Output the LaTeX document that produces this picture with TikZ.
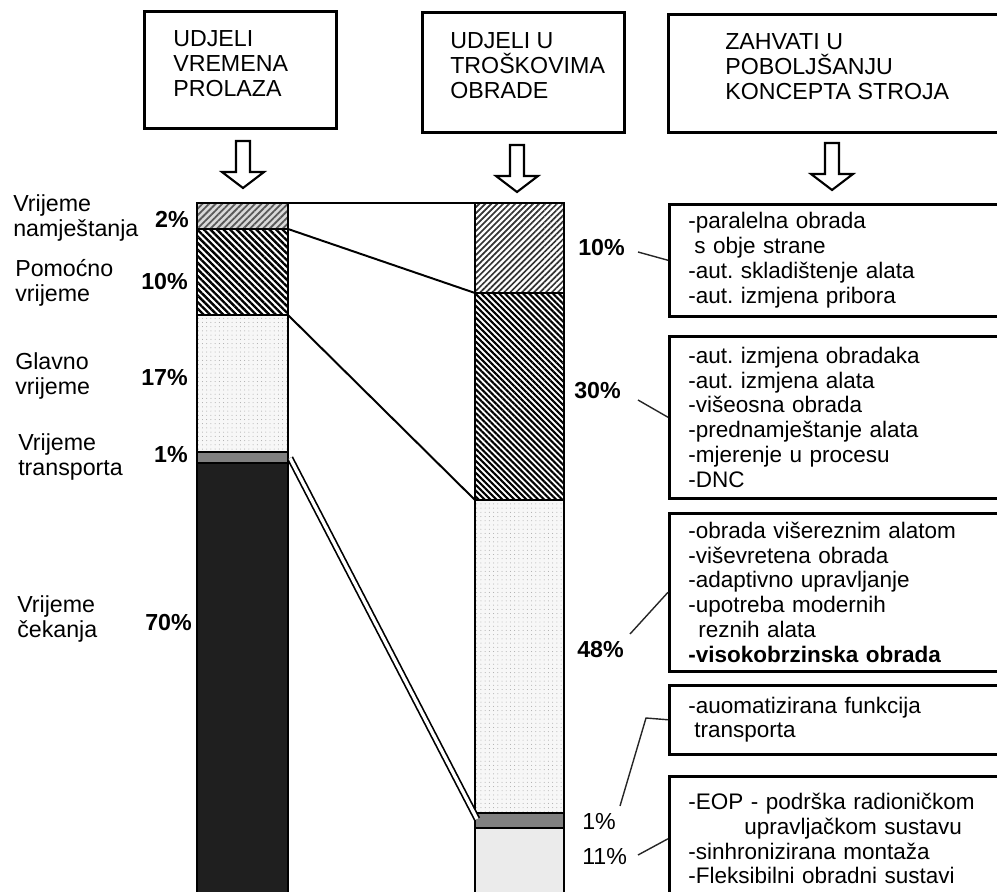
\documentclass[tikz,border=0pt]{standalone}
\usepackage{fontspec}
\setmainfont{Liberation Sans}
\usetikzlibrary{patterns.meta,calc}
\frenchspacing
\begin{document}
\begin{tikzpicture}[x=0.025cm,y=-0.025cm,
  hbox/.style={draw, line width=2pt, inner sep=0pt, anchor=north west},
  hdtext/.style={font=\fontsize{16.5}{17.8}\selectfont, align=left, inner sep=0pt, anchor=north west},
  lbl/.style={font=\fontsize{16.5}{17.8}\selectfont, align=left, inner sep=0pt, anchor=west},
  pct/.style={font=\bfseries\fontsize{16.5}{17.8}\selectfont, inner sep=0pt},
  pctr/.style={font=\fontsize{16.5}{17.8}\selectfont, inner sep=0pt, anchor=west},
  rbox/.style={draw, line width=1.8pt, anchor=north west, minimum width=345*0.025cm,
     inner xsep=19*0.025cm, inner ysep=0pt, text width=307*0.025cm, align=left,
     font=\fontsize{16}{17.6}\selectfont},
  seg/.style={draw, line width=1.4pt},
  link/.style={line width=1.4pt},
  tick/.style={line width=1pt, black!85},
  arrowline/.style={draw, line width=1.5pt, fill=white, line join=miter},
  hollowarrow/.pic={\path[arrowline] (-7,0) -- (-7,31) -- (-21,31) -- (0,47) -- (21,31) -- (7,31) -- (7,0) -- cycle;},
  hatchA/.style={preaction={fill=black!15}, pattern={Lines[angle=45,distance=3.3pt,line width=1.3pt]}, pattern color=black!65},
  hatchB/.style={pattern={Lines[angle=-45,distance=3.3pt,line width=1.7pt]}, pattern color=black},
  hatchC/.style={pattern={Lines[angle=45,distance=3pt,line width=1.2pt]}, pattern color=black!80},
  hatchD/.style={pattern={Lines[angle=-45,distance=3pt,line width=1.5pt]}, pattern color=black},
  dotsA/.style={preaction={fill=black!3}, pattern={Dots[distance=3pt,radius=0.35pt]}, pattern color=black!35},
]
\useasboundingbox (0,0) rectangle (997,892);
\clip (0,0) rectangle (997,892);

% header boxes
\node[hbox, minimum width=192*0.025cm, minimum height=117*0.025cm] (h1) at (143,10) {};
\node[hbox, minimum width=202*0.025cm, minimum height=120*0.025cm] (h2) at (421,11) {};
\node[hbox, minimum width=360*0.025cm, minimum height=118*0.025cm] (h3) at (667,13) {};
\node[hdtext] (h1t) at (173,30) {UDJELI\\VREMENA\\PROLAZA};
\node[hdtext] (h2t) at (450,32) {UDJELI U\\TROŠKOVIMA\\OBRADE};
\node[hdtext] (h3t) at (725,33) {ZAHVATI U\\POBOLJŠANJU\\KONCEPTA STROJA};

% hollow arrows
\pic at (243,141) {hollowarrow};
\pic at (517,145) {hollowarrow};
\pic at (832,143) {hollowarrow};

% left bar
\draw[seg, hatchA] (197,203) rectangle (288,229);
\draw[seg, hatchB] (197,229) rectangle (288,315);
\draw[seg, dotsA] (197,315) rectangle (288,452);
\draw[seg, fill=black!50] (197,452) rectangle (288,463);
\draw[seg, fill=black!88] (197,463) rectangle (288,900);

% right bar
\draw[seg, hatchC] (475,203) rectangle (564,293);
\draw[seg, hatchD] (475,293) rectangle (564,500);
\draw[seg, dotsA, line width=0.8pt] (475,500) rectangle (564,813);
\draw[seg, fill=black!50] (475,813) rectangle (564,828);
\draw[seg, fill=black!8, line width=0.8pt] (475,828) rectangle (564,900);

% bar coordinates
\coordinate (L0) at (288,203); \coordinate (R0) at (475,203);
\coordinate (L1) at (288,229); \coordinate (R1) at (475,293);
\coordinate (L2) at (288,315); \coordinate (R2) at (475,500);
\coordinate (L3) at (290,458); \coordinate (R3) at (477,819);

\draw[link] (L0) -- (R0);
\draw[link] (L1) -- (R1);
\draw[link] (L2) -- (R2);
\draw[line width=1.2pt, double=white, double distance=2.4pt] (L3) -- (R3);

% left labels
\node[lbl] (l1) at (13,218) {Vrijeme\\namještanja};
\node[lbl] (l2) at (15,283) {Pomoćno\\vrijeme};
\node[lbl] (l3) at (15,376) {Glavno\\vrijeme};
\node[lbl] (l4) at (18,457) {Vrijeme\\transporta};
\node[lbl] (l5) at (17,619) {Vrijeme\\čekanja};

\node[pct, anchor=east] (lp1) at (189,219) {2\%};
\node[pct, anchor=east] (lp2) at (188,282) {10\%};
\node[pct, anchor=east] (lp3) at (188,378) {17\%};
\node[pct, anchor=east] (lp4) at (188,455) {1\%};
\node[pct, anchor=east] (lp5) at (192,623) {70\%};

% right percentages
\node[pct, anchor=west] (rp1) at (578,248) {10\%};
\node[pct, anchor=west] (rp2) at (574,391) {30\%};
\node[pct, anchor=west] (rp3) at (577,650) {48\%};
\node[pctr] (rp4) at (582,822) {1\%};
\node[pctr] (rp5) at (582,857) {11\%};

% right boxes
\node[rbox, minimum height=112*0.025cm] (bA) at (668,203)
  {-paralelna obrada\\\hspace*{0.15cm}s obje strane\\-aut. skladištenje alata\\-aut. izmjena pribora};
\node[rbox, minimum height=162*0.025cm] (bB) at (668,335)
  {-aut. izmjena obradaka\\-aut. izmjena alata\\-višeosna obrada\\-prednamještanje alata\\-mjerenje u procesu\\-DNC};
\node[rbox, minimum height=158*0.025cm] (bC) at (668,512)
  {-obrada višereznim alatom\\-viševretena obrada\\-adaptivno upravljanje\\-upotreba modernih\\\hspace*{0.25cm}reznih alata\\\textbf{-visokobrzinska obrada}};
\node[rbox, minimum height=69*0.025cm] (bD) at (668,684)
  {-auomatizirana funkcija\\\hspace*{0.15cm}transporta};
\node[rbox, minimum height=125*0.025cm] (bE) at (668,775)
  {-EOP - podrška radioničkom\\\hspace*{1.4cm}upravljačkom sustavu\\-sinhronizirana montaža\\-Fleksibilni obradni sustavi};

% percentage ticks
\coordinate (t1) at (638,252);
\coordinate (t2) at (638,400);
\coordinate (t3) at (630,634);
\coordinate (t4) at (620,806);
\coordinate (t4b) at (646,718);
\coordinate (t5) at (638,855);
\draw[tick] (t1) -- (bA.west);
\draw[tick] (t2) -- (bB.west);
\draw[tick] (t3) -- (bC.west);
\draw[tick] (t4) -- (t4b) -- (bD.west);
\draw[tick] (t5) -- (bE.west);
\end{tikzpicture}
\end{document}
